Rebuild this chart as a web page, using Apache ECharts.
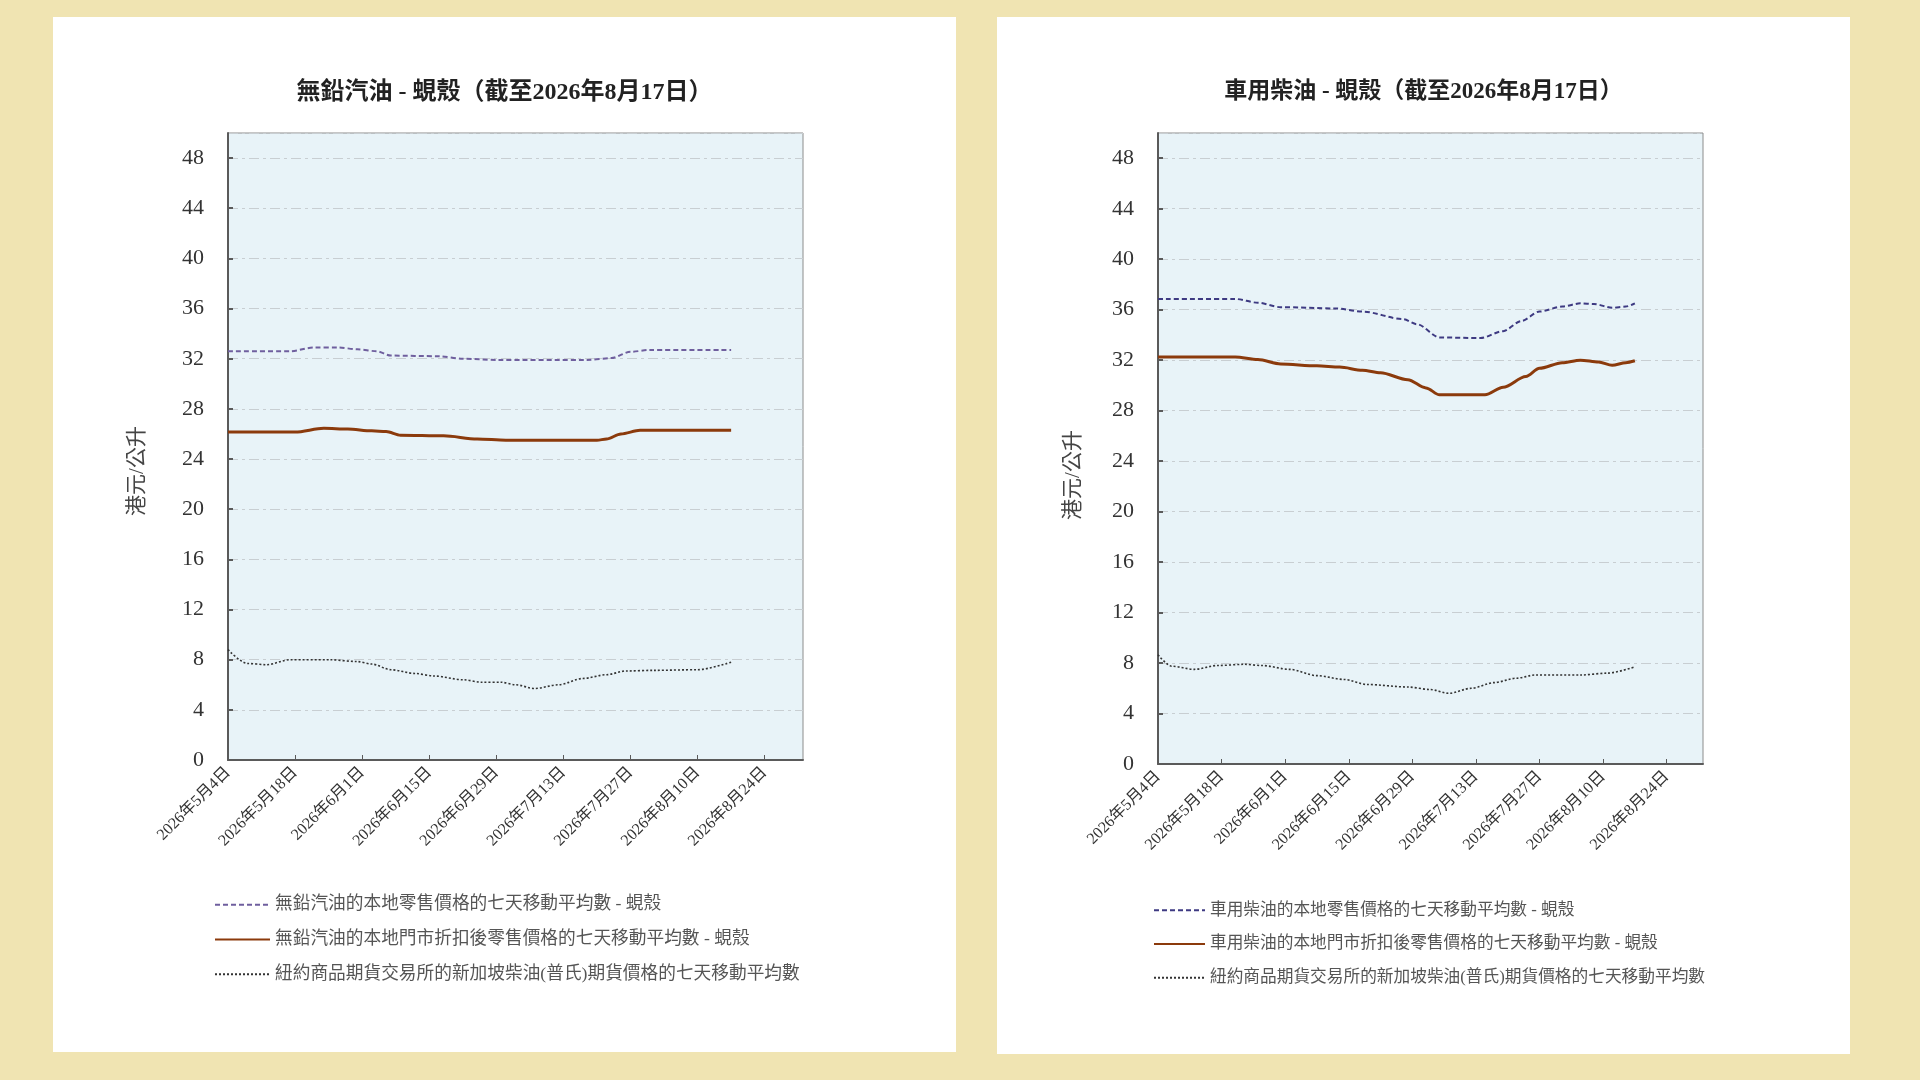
<!DOCTYPE html>
<html>
<head>
<meta charset="utf-8">
<title>無鉛汽油 / 車用柴油 - 蜆殼</title>
<script src="https://cdn.jsdelivr.net/npm/echarts@6/dist/echarts.min.js"></script>
<style>
  html, body { margin: 0; padding: 0; width: 1920px; height: 1080px; background: #f0e4b2; overflow: hidden; }
  .panel { position: absolute; background: #ffffff; }
  #left { left: 53px; top: 17px; width: 903px; height: 1035px; }
  #right { left: 997px; top: 17px; width: 853px; height: 1037px; }
</style>
</head>
<body>
<div id="left" class="panel"></div>
<div id="right" class="panel"></div>
<script>
// x axis: days counted from 2026-05-04, ticks every 14 days
var startDate = '2026-05-04';
var yTicks = [0, 4, 8, 12, 16, 20, 24, 28, 32, 36, 40, 44, 48];

// 無鉛汽油 (left)
var petrolRetailDays  = [0, 13, 18, 23, 27, 31, 34, 44, 49, 56, 75, 80, 84, 88, 105];
var petrolRetail      = [32.6, 32.6, 32.9, 32.9, 32.75, 32.6, 32.25, 32.2, 32.0, 31.9, 31.9, 32.05, 32.55, 32.7, 32.7];
var petrolDiscDays    = [0, 14, 20, 25, 30, 33, 36, 45, 52, 58, 77, 79, 82, 86, 105];
var petrolDisc        = [26.15, 26.15, 26.45, 26.4, 26.25, 26.2, 25.9, 25.85, 25.6, 25.5, 25.5, 25.6, 26.0, 26.3, 26.3];
var petrolFutDays     = [0, 4, 8, 13, 21, 27, 30, 34, 39, 43, 49, 53, 57, 60, 64, 69, 74, 79, 83, 89, 98, 105];
var petrolFut         = [8.8, 7.7, 7.6, 8.0, 8.0, 7.85, 7.65, 7.2, 6.9, 6.7, 6.4, 6.2, 6.2, 6.0, 5.7, 6.0, 6.5, 6.8, 7.1, 7.15, 7.2, 7.8];

// 車用柴油 (right)
var dieselRetailDays  = [0, 17, 22, 27, 39, 45, 54, 57, 62, 71, 76, 80, 84, 89, 93, 96, 100, 103, 105];
var dieselRetail      = [36.85, 36.85, 36.55, 36.2, 36.1, 35.85, 35.25, 34.85, 33.8, 33.75, 34.3, 35.1, 35.85, 36.25, 36.5, 36.45, 36.15, 36.25, 36.5];
var dieselDiscDays    = [0, 17, 22, 27, 35, 40, 45, 49, 55, 59, 62, 72, 76, 81, 84, 89, 93, 97, 100, 103, 105];
var dieselDisc        = [32.25, 32.25, 32.05, 31.7, 31.55, 31.45, 31.2, 31.0, 30.45, 29.8, 29.25, 29.25, 29.85, 30.7, 31.35, 31.8, 32.0, 31.85, 31.6, 31.8, 31.95];
var dieselFutDays     = [0, 3, 8, 13, 19, 23, 29, 35, 41, 46, 55, 60, 64, 69, 74, 79, 83, 93, 99, 105];
var dieselFut         = [8.65, 7.75, 7.5, 7.8, 7.9, 7.8, 7.5, 7.0, 6.7, 6.3, 6.1, 5.9, 5.6, 6.0, 6.45, 6.8, 7.05, 7.05, 7.2, 7.7];

var FONT = "'Liberation Serif', 'Noto Sans CJK TC', serif";

function pairs(days, vals) {
    return days.map(function (d, i) { return [d, vals[i]]; });
}

function dayLabel(v) {
    var d = new Date(startDate + 'T00:00:00');
    d.setDate(d.getDate() + v);
    return d.getFullYear() + '年' + (d.getMonth() + 1) + '月' + d.getDate() + '日';
}

function build(cfg) {
    return {
        animation: false,
        textStyle: {fontFamily: FONT},
        title: {text: cfg.title, left: 'center', top: 59,
            textStyle: {fontFamily: FONT, fontSize: cfg.titleSize, fontWeight: 'bold', color: '#222'}},
        grid: {left: cfg.grid[0], top: cfg.grid[1], width: cfg.grid[2], height: cfg.grid[3],
            show: true, backgroundColor: '#e8f3f8', borderColor: '#8c8c8c', borderWidth: 1},
        legend: {orient: 'vertical', left: cfg.legend[0], top: cfg.legend[1], itemWidth: cfg.legend[2], itemHeight: 14, itemGap: 17,
            itemStyle: {opacity: 0},
            textStyle: {fontFamily: FONT, fontSize: cfg.legend[3], color: '#555'},
            data: cfg.names},
        xAxis: {type: 'value', min: 0, max: 120, interval: 14,
            axisLine: {lineStyle: {color: '#5a5a5a', width: 2}},
            axisTick: {inside: true, length: 5, lineStyle: {color: '#5a5a5a'}},
            splitLine: {show: false},
            axisLabel: {rotate: 45, margin: 10, fontSize: 16, color: '#333', fontFamily: FONT,
                showMaxLabel: false, formatter: dayLabel}},
        yAxis: {type: 'value', min: 0, max: 50, interval: 4,
            axisLine: {show: true, lineStyle: {color: '#5a5a5a', width: 2}},
            axisTick: {show: true, inside: true, length: 5, lineStyle: {color: '#5a5a5a', width: 2}},
            splitLine: {show: true, lineStyle: {color: '#c8ced2', width: 1, type: [10, 4, 3, 4]}},
            axisLabel: {margin: 24, fontSize: 22, color: '#333', fontFamily: FONT, showMaxLabel: false,
                formatter: function (v) { return yTicks.indexOf(v) >= 0 ? String(v) : ''; }}},
        graphic: [{type: 'text', x: cfg.yName[0], y: cfg.yName[1], rotation: Math.PI / 2,
            style: {text: '港元/公升', font: '21px ' + FONT, fill: '#444', textAlign: 'center', textVerticalAlign: 'middle'}}],
        series: [
            {name: cfg.names[0], type: 'line', symbol: 'none', smooth: 0.3, smoothMonotone: 'x',
                lineStyle: {color: cfg.purple, width: 2, type: [5, 3]}, itemStyle: {color: cfg.purple},
                data: pairs(cfg.data[0][0], cfg.data[0][1])},
            {name: cfg.names[1], type: 'line', symbol: 'none', smooth: 0.3, smoothMonotone: 'x',
                lineStyle: {color: '#8b3a0c', width: 3}, itemStyle: {color: '#8b3a0c'},
                data: pairs(cfg.data[1][0], cfg.data[1][1])},
            {name: cfg.names[2], type: 'line', symbol: 'none', smooth: 0.3, smoothMonotone: 'x',
                lineStyle: {color: '#333', width: 1.6, type: [2, 2]}, itemStyle: {color: '#333'},
                data: pairs(cfg.data[2][0], cfg.data[2][1])}
        ]
    };
}

var futName = '紐約商品期貨交易所的新加坡柴油(普氏)期貨價格的七天移動平均數';

var leftChart = echarts.init(document.getElementById('left'));
leftChart.setOption(build({
    title: '無鉛汽油 - 蜆殼（截至2026年8月17日）',
    titleSize: 24,
    grid: [175, 116, 575, 627],
    legend: [156, 874, 55, 17.7],
    yName: [84, 454],
    purple: '#6f5f9e',
    names: ['無鉛汽油的本地零售價格的七天移動平均數 - 蜆殼',
            '無鉛汽油的本地門市折扣後零售價格的七天移動平均數 - 蜆殼',
            futName],
    data: [[petrolRetailDays, petrolRetail], [petrolDiscDays, petrolDisc], [petrolFutDays, petrolFut]]
}));

var rightChart = echarts.init(document.getElementById('right'));
rightChart.setOption(build({
    title: '車用柴油 - 蜆殼（截至2026年8月17日）',
    titleSize: 23,
    grid: [161, 116, 545, 631],
    legend: [151, 880, 51, 16.7],
    yName: [76, 458],
    purple: '#3e3a82',
    names: ['車用柴油的本地零售價格的七天移動平均數 - 蜆殼',
            '車用柴油的本地門市折扣後零售價格的七天移動平均數 - 蜆殼',
            futName],
    data: [[dieselRetailDays, dieselRetail], [dieselDiscDays, dieselDisc], [dieselFutDays, dieselFut]]
}));
</script>
</body>
</html>
